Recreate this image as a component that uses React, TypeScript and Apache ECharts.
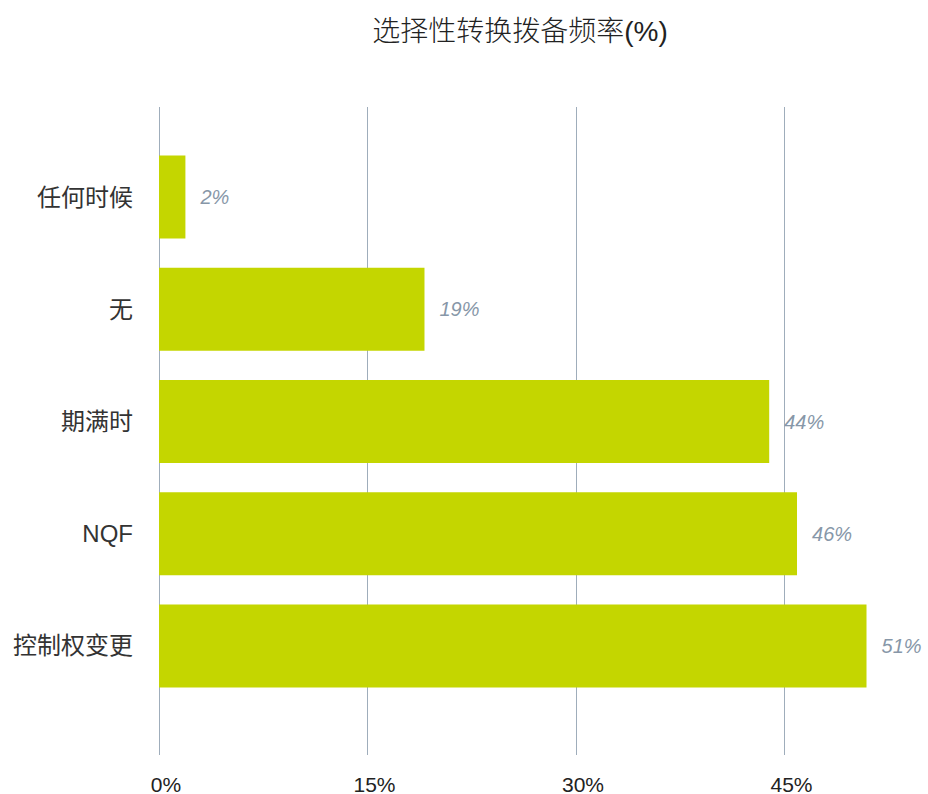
import React, { useEffect, useRef } from "react";
import * as echarts from "echarts";

const categories = ["任何时候", "无", "期满时", "NQF", "控制权变更"];
const values = [1.9, 19.1, 43.9, 45.9, 50.9];
const xTicks = [0, 15, 30, 45, 60];
const title = "选择性转换拨备频率(%)";

const FONT = "'Liberation Sans', 'Noto Sans CJK SC', sans-serif";

export default function App() {
  const ref = useRef<HTMLDivElement>(null);
  useEffect(() => {
    if (!ref.current) return;
    const chart = echarts.init(ref.current, null, { renderer: "svg" });
    const pxPer = 208.5 / 15;
    const xMax = xTicks[xTicks.length - 1];
    const gridWidth = xMax * pxPer;
    chart.setOption({
      animation: false,
      backgroundColor: "#ffffff",
      title: {
        text: title,
        left: 515,
        textAlign: "center",
        top: 12,
        textStyle: { fontFamily: FONT, fontSize: 28, fontWeight: 300, color: "#222" },
      },
      grid: [
        { left: 159, top: 107, width: gridWidth, height: 648, outerBoundsMode: "none", containLabel: false },
        { left: 159, top: 141, width: gridWidth, height: 561, outerBoundsMode: "none", containLabel: false },
      ],
      xAxis: [
        {
          type: "value",
          gridIndex: 0,
          min: 0,
          max: xMax,
          interval: 15,
          axisLine: { show: false },
          axisTick: { show: false },
          splitLine: { show: true, lineStyle: { color: "#9fadbb", width: 1 } },
          axisLabel: {
            formatter: (v: number) => `${v}%`,
            fontFamily: FONT,
            fontSize: 21,
            color: "#222",
            margin: 19,
            padding: [0, 0, 0, 14],
            showMaxLabel: false,
          },
        },
        {
          type: "value",
          gridIndex: 1,
          min: 0,
          max: xMax,
          interval: 15,
          show: false,
          splitLine: { show: false },
        },
      ],
      yAxis: [
        {
          type: "category",
          gridIndex: 0,
          data: categories,
          show: false,
        },
        {
          type: "category",
          gridIndex: 1,
          data: categories,
          inverse: true,
          axisLine: { show: false },
          axisTick: { show: false },
          splitLine: { show: false },
          axisLabel: {
            fontFamily: FONT,
            fontSize: 24,
            color: "#333",
            margin: 26,
          },
        },
      ],
      series: [
        {
          type: "bar",
          xAxisIndex: 1,
          yAxisIndex: 1,
          data: values,
          barCategoryGap: "26%",
          itemStyle: { color: "#c4d600" },
          label: {
            show: true,
            position: "right",
            distance: 15,
            formatter: (p: any) => `${Math.round(p.value)}%`,
            fontFamily: FONT,
            fontSize: 20,
            fontStyle: "italic",
            color: "#8797a8",
          },
        },
      ],
    });
    return () => chart.dispose();
  }, []);
  return (
    <div style={{ position: "absolute", left: 0, top: 0, width: 928, height: 794, overflow: "hidden" }}>
      <div ref={ref} style={{ width: 1000, height: 794 }} />
    </div>
  );
}
